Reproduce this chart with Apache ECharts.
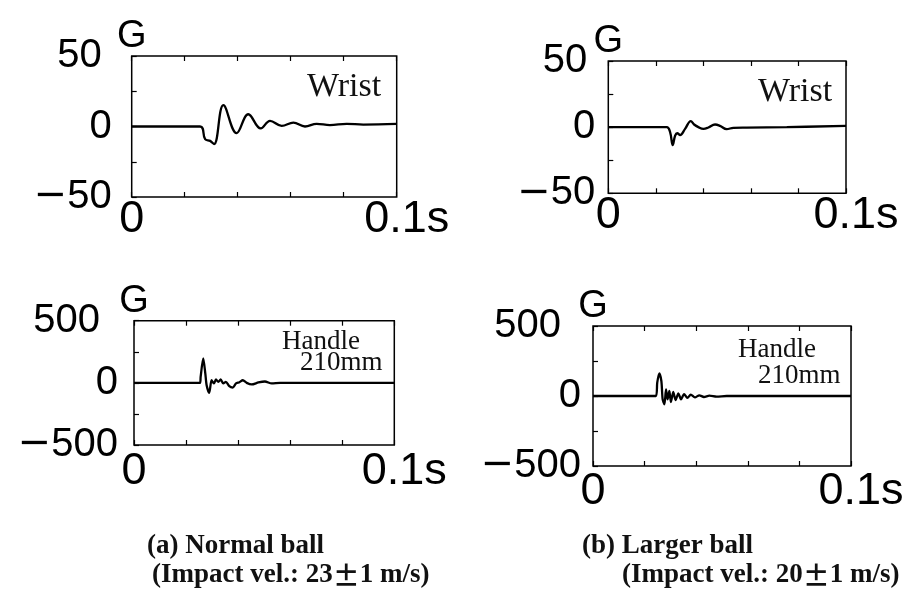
<!DOCTYPE html>
<html>
<head>
<meta charset="utf-8">
<script src="https://cdn.jsdelivr.net/npm/echarts@6/dist/echarts.min.js"></script>
<style>
  html, body { margin: 0; padding: 0; background: #fff; }
  #chart { width: 911px; height: 591px; }
</style>
</head>
<body>
<div id="chart"></div>
<script>
// 手首 / グリップの加速度波形 (時間 s, 加速度 G)
const wristNormalT = [0, 0.0258, 0.0277, 0.0296, 0.0311, 0.0346, 0.0396, 0.0440, 0.0487, 0.0522, 0.0566, 0.0610, 0.0654, 0.0698, 0.0748, 0.0811, 0.0874, 0.1];
const wristNormalG = [0, 0, -9.0, -10.2, -12.5, 15.1, -4.7, 8.7, -1.4, 4.0, 0.5, 2.8, 0, 1.9, 1.0, 1.9, 1.4, 1.8];

const wristLargeT = [0, 0.0246, 0.0260, 0.0271, 0.0281, 0.0290, 0.0302, 0.0323, 0.0347, 0.0361, 0.0379, 0.0400, 0.0421, 0.0449, 0.0470, 0.0498, 0.0526, 0.0582, 0.0751, 0.1];
const wristLargeG = [0, 0, -3.8, -13.5, -6.5, -4.6, -6.0, -1.3, 4.6, 2.0, 0.0, -1.3, -0.3, 2.0, 1.0, -1.5, -0.5, -0.3, 0, 1.0];

const handleNormalT = [0, 0.0254, 0.0256, 0.0266, 0.0274, 0.0279, 0.0289, 0.0298, 0.0307, 0.0315, 0.0324, 0.0333, 0.0343, 0.0353, 0.0366, 0.0379, 0.0392, 0.0405, 0.0418, 0.0433, 0.0452, 0.0478, 0.0503, 0.0529, 0.0561, 0.1];
const handleNormalG = [0, 0, 48, 196, 75, -19, -81, 21, -5, 27, 8, 27, -5, 8, -27, -38, -5, 5, 21, 0, -13, 3, 11, -5, 0, 0];

const handleLargeT = [0, 0.0244, 0.0249, 0.0257, 0.0265, 0.0270, 0.0277, 0.0283, 0.0289, 0.0296, 0.0302, 0.0311, 0.0320, 0.0331, 0.0341, 0.0353, 0.0366, 0.0379, 0.0395, 0.0412, 0.0430, 0.0451, 0.0479, 0.0518, 0.1];
const handleLargeG = [0, 0, 95, 162, 107, -24, -60, 48, -24, 36, -43, 29, -29, 19, -24, 14, -14, 10, -10, 5, -7, 2, -5, 0, 0];

const timeRange = [0, 0.1];
const wristRange = [-50, 50];
const handleRange = [-500, 500];

const numFont = '"Liberation Sans", Arial, sans-serif';
const minusFont = '"DejaVu Sans", sans-serif';
const cjkFont = '"Noto Sans CJK JP", sans-serif';
const serifFont = '"Liberation Serif", "Times New Roman", serif';

function zip(t, g) {
  return t.map((v, i) => [v, g[i]]);
}

// パネルの配置
const panels = [
  { box: [131.7, 56, 265, 141], range: wristRange, t: wristNormalT, g: wristNormalG, yMargin: 20, xMargin: 0, topPad: 10, smooth: 0.4 },
  { box: [608.3, 61, 237.7, 132.3], range: wristRange, t: wristLargeT, g: wristLargeG, yMargin: 13, xMargin: 0, topPad: 8, smooth: 0.4 },
  { box: [134, 320.7, 260.3, 124.3], range: handleRange, t: handleNormalT, g: handleNormalG, yMargin: 16, xMargin: 4, topPad: 18, smooth: 0.25 },
  { box: [593, 326, 258, 140], range: handleRange, t: handleLargeT, g: handleLargeG, yMargin: 12, xMargin: 3, topPad: 20, smooth: 0.25 }
];

const grid = [], xAxis = [], yAxis = [], series = [];

panels.forEach((p, i) => {
  grid.push({
    left: p.box[0], top: p.box[1], width: p.box[2], height: p.box[3],
    show: true, borderColor: '#000', borderWidth: 1.5, backgroundColor: 'transparent'
  });
  // 下軸
  xAxis.push({
    type: 'value', gridIndex: i, min: timeRange[0], max: timeRange[1], interval: 0.02,
    splitLine: { show: false },
    axisLine: { show: false, onZero: false },
    axisTick: { show: true, inside: true, length: 5, lineStyle: { color: '#000', width: 1.2 } },
    axisLabel: {
      show: true, margin: p.xMargin, showMinLabel: true, showMaxLabel: true,
      color: '#000', fontSize: 45, fontFamily: numFont,
      formatter: function (v) {
        if (v === 0) return '0';
        if (Math.abs(v - 0.1) < 1e-9) return '{m|0.1s}';
        return '';
      },
      rich: { m: { padding: [0, 0, 0, 20], fontSize: 45, fontFamily: numFont, color: '#000' } }
    }
  });
  // 上軸（目盛りのみ）
  xAxis.push({
    type: 'value', gridIndex: i, position: 'top', min: timeRange[0], max: timeRange[1], interval: 0.02,
    splitLine: { show: false },
    axisLine: { show: false, onZero: false },
    axisTick: { show: true, inside: true, length: 5, lineStyle: { color: '#000', width: 1.2 } },
    axisLabel: { show: false }
  });
  yAxis.push({
    type: 'value', gridIndex: i, min: p.range[0], max: p.range[1], interval: p.range[1] / 2,
    name: 'G', nameLocation: 'end', nameGap: 0,
    nameTextStyle: { color: '#000', fontSize: 38, fontFamily: numFont },
    splitLine: { show: false },
    axisLine: { show: false, onZero: false },
    axisTick: { show: true, inside: true, length: 5, lineStyle: { color: '#000', width: 1.2 } },
    axisLabel: {
      margin: p.yMargin, color: '#000', fontSize: 40, fontFamily: numFont,
      formatter: function (v) {
        if (v === 0) return '0';
        if (v === p.range[1]) return '{t|' + v + '}';
        if (v === p.range[0]) return '{mi|\u2212}' + Math.abs(v);
        return '';
      },
      rich: {
        t: { padding: [0, p.topPad, 0, 0], fontSize: 40, fontFamily: numFont, color: '#000' },
        mi: { fontSize: 40, fontFamily: minusFont, color: '#000' }
      }
    }
  });
  series.push({
    type: 'line', xAxisIndex: i * 2, yAxisIndex: i,
    data: zip(p.t, p.g),
    smooth: p.smooth, showSymbol: false, symbol: 'none',
    lineStyle: { color: '#000', width: 2.3 }
  });
});

function label(text, left, top, size, bold) {
  return {
    type: 'text', left: left, top: top,
    style: {
      text: text, fill: '#111', fontSize: size,
      fontFamily: serifFont, fontWeight: bold ? 'bold' : 'normal'
    }
  };
}

function caption(pre, post, left, top) {
  return {
    type: 'text', left: left, top: top,
    style: {
      text: pre + '{pm|\u00b1}' + post, fill: '#111', fontSize: 27,
      fontFamily: serifFont, fontWeight: 'bold',
      rich: { pm: { fontSize: 27, fontFamily: cjkFont, fontWeight: 'bold', fill: '#111' } }
    }
  };
}

const chart = echarts.init(document.getElementById('chart'));
chart.setOption({
  backgroundColor: '#fff',
  animation: false,
  grid: grid,
  xAxis: xAxis,
  yAxis: yAxis,
  series: series,
  graphic: [
    label('Wrist', 307, 70, 34),
    label('Wrist', 758, 75, 34),
    label('Handle', 282, 328, 27),
    label('210mm', 300, 349, 27),
    label('Handle', 738, 336, 27),
    label('210mm', 758, 362, 27),
    label('(a) Normal ball', 147, 533, 27, true),
    caption('(Impact vel.: 23', '1 m/s)', 152, 562),
    label('(b) Larger ball', 582, 533, 27, true),
    caption('(Impact vel.: 20', '1 m/s)', 622, 562)
  ]
});
</script>
</body>
</html>
